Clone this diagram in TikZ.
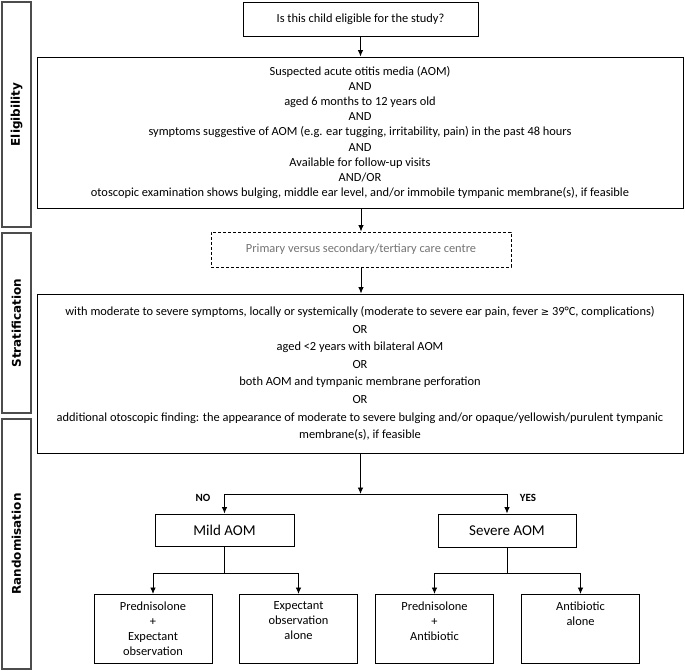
\documentclass[tikz,border=0pt]{standalone}
\usepackage{fontspec}
\setmainfont{Carlito}
\newfontfamily\sidefont{DejaVu Sans}
\usetikzlibrary{positioning, arrows.meta}
\tikzset{
	box/.style={draw, line width=0.9pt, inner sep=0pt, align=center},
	sidebox/.style={draw=black!70, line width=1.2pt, minimum width=29pt, inner sep=0pt},
	sidelabel/.style={rotate=90, font=\sidefont\bfseries\fontsize{12}{14}\selectfont},
	armbox/.style={box, anchor=north},
	arr/.style={-{Latex[length=6.5pt, width=5.5pt]}},
}
\newcommand*{\armtext}[1]{\parbox[c][69pt][t]{118pt}{\centering\vspace*{7pt}#1}}

\begin{document}
\begin{tikzpicture}[x=1pt, y=-1pt, line width=0.9pt, font=\fontsize{12.4}{15.1}\selectfont]
		\useasboundingbox (0,0) rectangle (685,671);
		\node[sidebox, minimum height=225pt](selig)at(16.5, 114.5){};
		\node[sidebox, minimum height=180pt](sstrat)at(16.5, 323){};
		\node[sidebox, minimum height=250pt](srand)at(16.5, 544){};
		\node[sidelabel]at(selig){Eligibility};
		\node[sidelabel]at(sstrat){Stratification};
		\node[sidelabel]at(srand){Randomisation};
		\node[box, minimum width=235pt, minimum height=34pt](start)at(360.5, 19){Is this child eligible for the study?};
		\node[box, minimum width=646pt, minimum height=151pt](elig)at(360, 132.5){Suspected acute otitis media (AOM)\\AND\\aged 6 months to 12 years old\\AND\\symptoms suggestive of AOM (e.g. ear tugging, irritability, pain) in the past 48 hours\\AND\\Available for follow-up visits\\AND/OR\\otoscopic examination shows bulging, middle ear level, and/or immobile tympanic membrane(s), if feasible};
		\node[box, dashed, dash pattern=on 3pt off 2pt, text=black!55, minimum width=300pt, minimum height=35pt](centre)at(361, 249.5){Primary versus secondary/tertiary care centre};
		\node[box, minimum width=646pt, minimum height=159pt, font=\fontsize{12.4}{17.6}\selectfont](strat)at(360, 373.5){with moderate to severe symptoms, locally or systemically (moderate to severe ear pain, fever {\sidefont\fontsize{10}{12}\selectfont ≥} 39°C, complications)\\OR\\aged <2 years with bilateral AOM\\OR\\both AOM and tympanic membrane perforation\\OR\\additional otoscopic finding: the appearance of moderate to severe bulging and/or opaque/yellowish/purulent tympanic\\membrane(s), if feasible};
		\coordinate(split)at(360.5, 494);
		\node[box, minimum width=139pt, minimum height=32pt, font=\fontsize{15}{18}\selectfont](mild)at(224.5, 530){Mild AOM};
		\node[box, minimum width=138pt, minimum height=33pt, font=\fontsize{15}{18}\selectfont](severe)at(507, 530.5){Severe AOM};
		\node[font=\bfseries\fontsize{11}{13}\selectfont](no)at(203, 497.5){NO};
		\node[font=\bfseries\fontsize{11}{13}\selectfont](yes)at(528, 497.5){YES};
		\coordinate(mildsplit)at(224.5, 573);
		\coordinate(sevsplit)at(507, 573);
		\node[armbox](pe)at(153, 594){\armtext{Prednisolone\\+\\Expectant\\observation}};
		\node[armbox](eo)at(298.5, 594){\armtext{Expectant\\observation\\alone}};
		\node[armbox](pa)at(434.5, 594){\armtext{Prednisolone\\+\\Antibiotic}};
		\node[armbox](ab)at(580.5, 594){\armtext{Antibiotic\\alone}};
		\draw[arr](start.south)--(start.south |- elig.north);
		\draw[arr](elig.south -| centre.north)--(centre.north);
		\draw[arr](centre.south)--(centre.south |- strat.north);
		\draw[arr](strat.south -| split)--(split);
		\draw[arr](split)-|(mild.north);
		\draw[arr](split)-|(severe.north);
		\draw(mild.south)--(mildsplit);
		\draw[arr](mildsplit)-|(pe.north);
		\draw[arr](mildsplit)-|(eo.north);
		\draw(severe.south)--(sevsplit);
		\draw[arr](sevsplit)-|(pa.north);
		\draw[arr](sevsplit)-|(ab.north);
	\end{tikzpicture}
\end{document}
